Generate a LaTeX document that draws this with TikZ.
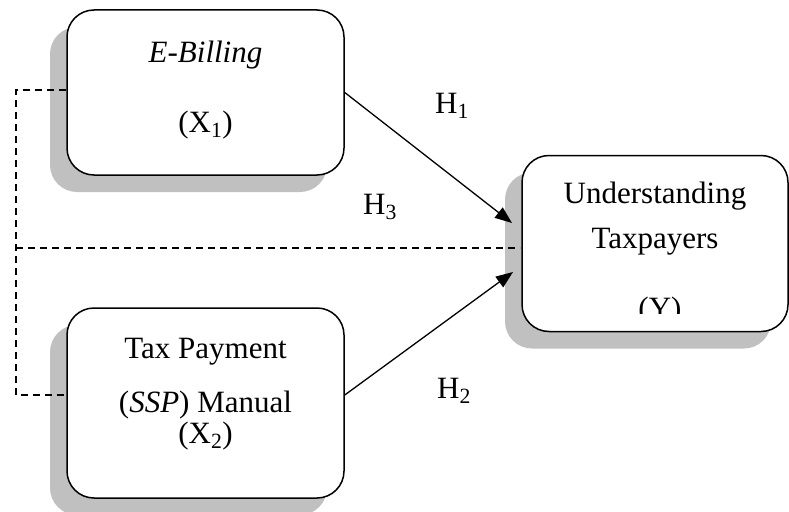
\documentclass[tikz,border=0pt]{standalone}
\usepackage{fontspec}
\setmainfont{Liberation Serif}
\usetikzlibrary{shadows,arrows.meta}
\definecolor{shadowgray}{RGB}{192,192,192}
\tikzset{
  box/.style={draw, line width=1.5pt, rounded corners=27pt, fill=white, inner sep=0pt,
    general shadow={shadow xshift=-17pt, shadow yshift=-17pt, fill=shadowgray}},
  txt/.style={anchor=base, inner sep=0pt, font=\fontsize{31}{36}\selectfont},
  arr/.style={line width=1.3pt, -{Triangle[length=17pt,width=13pt]}},
  dsh/.style={line width=1.2pt, dash pattern=on 7pt off 5pt},
}
\begin{document}
\begin{tikzpicture}[x=1pt,y=-1pt]
\useasboundingbox (0,0) rectangle (789,511);
% boxes
\node[box, minimum width=277pt, minimum height=165pt] (b1) at (205.5,92.5) {};
\node[box, minimum width=277pt, minimum height=190pt] (b2) at (205.5,403) {};
\node[box, minimum width=266pt, minimum height=176pt] (b3) at (655,243.5) {};
% texts
\node[txt] (t1a) at (205.5,63) {\textit{E-Billing}};
\node[txt] (t1b) at (205.5,132) {(X\textsubscript{1})};
\node[txt] (t2a) at (205.5,358) {Tax Payment};
\node[txt] (t2b) at (205.5,412) {(\textit{SSP}) Manual};
\node[txt] (t2c) at (205.5,443) {(X\textsubscript{2})};
\node[txt] (t3a) at (655,203) {Understanding};
\node[txt] (t3b) at (655,248) {Taxpayers};
\begin{scope}
\clip (600,280) rectangle (720,313);
\node[txt] (t3c) at (660,318) {(Y)};
\end{scope}
% hypothesis labels
\node[txt, anchor=base west] (h1) at (435,113) {H\textsubscript{1}};
\node[txt, anchor=base west] (h3) at (363,214) {H\textsubscript{3}};
\node[txt, anchor=base west] (h2) at (437,398) {H\textsubscript{2}};
% connectors
\coordinate (tip1) at (512,223);
\coordinate (tip2) at (513,272);
\coordinate (s2) at (344,395);
\coordinate (L1) at (16,90);
\coordinate (L2) at (16,395);
\coordinate (M) at (16,248);
\draw[arr] (b1.east) -- (tip1);
\draw[arr] (b2.east |- s2) -- (tip2);
\draw[dsh] (b1.west |- L1) -- (L1) -- (L2) -- (b2.west |- L2);
\draw[dsh] (M) -- (520,248);
\end{tikzpicture}
\end{document}
